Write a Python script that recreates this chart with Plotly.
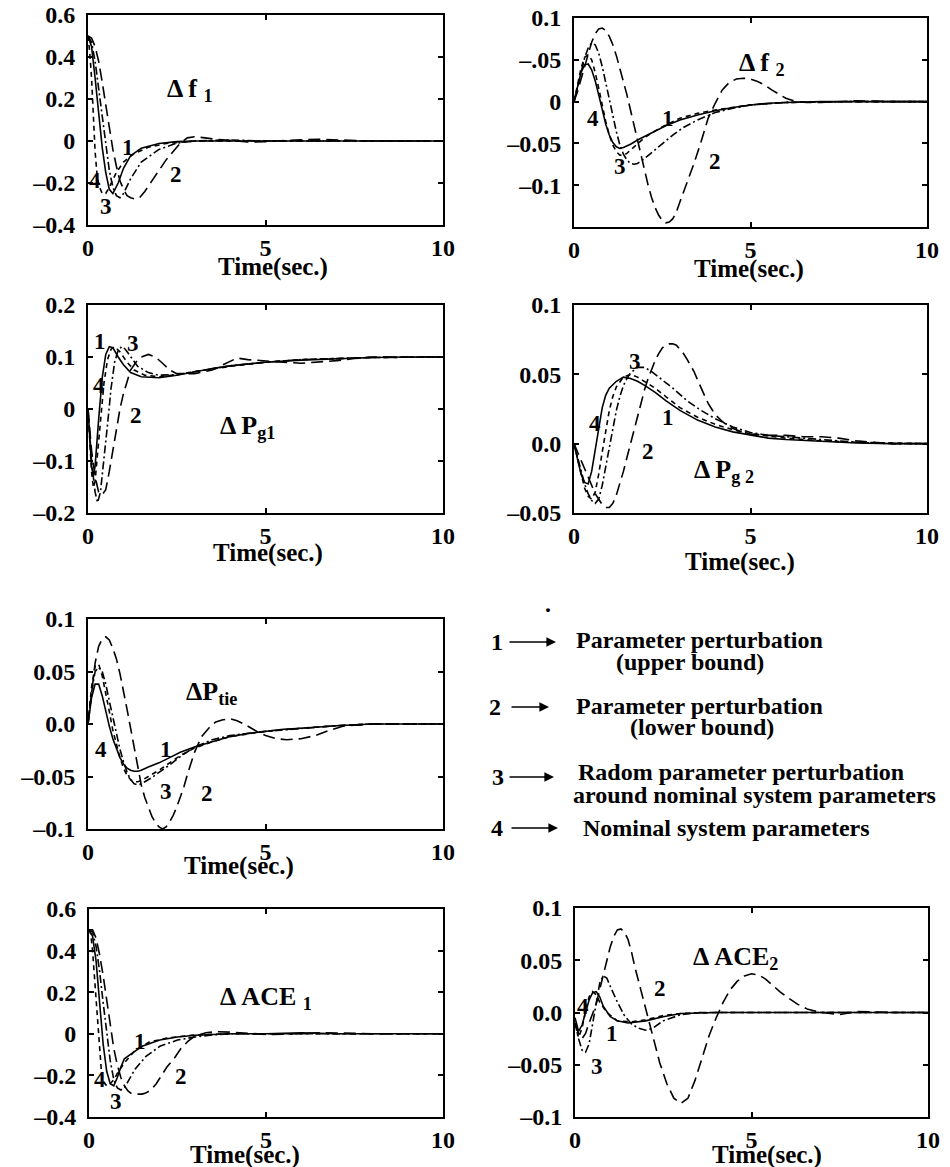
import plotly.graph_objects as go

W, H = 950, 1167

# ---------------- data: Δf1 ----------------
df1_t1 = [0, 0.1, 0.2, 0.3, 0.4, 0.5, 0.6, 0.7, 0.85, 1.0, 1.2, 1.5, 2.0, 2.5, 3, 4, 5, 6, 7, 8, 9, 10]
df1_v1 = [0.5, 0.45, 0.3, 0.12, -0.03, -0.15, -0.23, -0.25, -0.2, -0.13, -0.07, -0.035, -0.012, -0.003, 0, 0, 0, 0, 0, 0, 0, 0]
df1_t2 = [0, 0.1, 0.2, 0.3, 0.4, 0.5, 0.6, 0.7, 0.8, 0.9, 1.0, 1.1, 1.2, 1.3, 1.45, 1.6, 1.8, 2.0, 2.2, 2.4, 2.6, 2.8, 3.0, 3.3, 3.6, 4, 4.5, 5, 5.5, 6, 6.5, 7, 8, 10]
df1_v2 = [0.5, 0.49, 0.45, 0.38, 0.28, 0.17, 0.06, -0.04, -0.12, -0.19, -0.23, -0.26, -0.27, -0.275, -0.27, -0.24, -0.19, -0.14, -0.09, -0.05, -0.01, 0.015, 0.02, 0.015, 0.008, 0.003, -0.005, -0.003, 0.003, 0.006, 0.008, 0.005, 0, 0]
df1_t3 = [0, 0.1, 0.2, 0.3, 0.4, 0.5, 0.6, 0.7, 0.8, 0.9, 1.0, 1.2, 1.5, 2.0, 2.5, 3, 4, 5, 6, 8, 10]
df1_v3 = [0.5, 0.47, 0.38, 0.25, 0.1, -0.03, -0.14, -0.22, -0.26, -0.27, -0.25, -0.18, -0.1, -0.04, -0.01, 0, 0.005, 0, 0, 0, 0]
df1_t4 = [0, 0.05, 0.1, 0.15, 0.2, 0.25, 0.3, 0.4, 0.5, 0.6, 0.8, 1.0, 1.3, 1.7, 2.2, 3, 4, 6, 8, 10]
df1_v4 = [0.5, 0.42, 0.3, 0.12, -0.05, -0.15, -0.21, -0.25, -0.25, -0.22, -0.15, -0.1, -0.06, -0.03, -0.012, 0, 0, 0, 0, 0]

# ---------------- data: Δf2 ----------------
df2_t1 = [0, 0.1, 0.2, 0.3, 0.4, 0.5, 0.6, 0.7, 0.8, 0.9, 1.0, 1.1, 1.2, 1.3, 1.4, 1.6, 1.8, 2.0, 2.3, 2.6, 3.0, 3.5, 4.0, 4.5, 5, 5.5, 6, 7, 8, 10]
df2_v1 = [0, 0.018, 0.035, 0.044, 0.045, 0.038, 0.025, 0.008, -0.01, -0.027, -0.04, -0.049, -0.054, -0.056, -0.055, -0.051, -0.046, -0.042, -0.035, -0.029, -0.022, -0.016, -0.011, -0.007, -0.004, -0.002, -0.001, 0, 0, 0]
df2_t2 = [0, 0.1, 0.2, 0.3, 0.4, 0.5, 0.6, 0.7, 0.8, 0.9, 1.0, 1.1, 1.2, 1.3, 1.4, 1.5, 1.6, 1.7, 1.8, 1.9, 2.0, 2.1, 2.2, 2.3, 2.4, 2.5, 2.6, 2.7, 2.8, 2.9, 3.0, 3.2, 3.4, 3.6, 3.8, 4.0, 4.2, 4.4, 4.6, 4.8, 5.0, 5.2, 5.4, 5.6, 5.8, 6.0, 6.3, 6.6, 7, 8, 9, 10]
df2_v2 = [0, 0.012, 0.027, 0.042, 0.058, 0.071, 0.081, 0.087, 0.088, 0.085, 0.078, 0.068, 0.055, 0.04, 0.024, 0.008, -0.01, -0.028, -0.048, -0.066, -0.084, -0.1, -0.115, -0.127, -0.136, -0.142, -0.145, -0.144, -0.14, -0.132, -0.12, -0.098, -0.074, -0.048, -0.02, -0.002, 0.014, 0.023, 0.027, 0.028, 0.027, 0.024, 0.02, 0.014, 0.009, 0.004, 0.0, -0.001, -0.001, 0.001, 0, 0]
df2_t3 = [0, 0.1, 0.2, 0.3, 0.4, 0.5, 0.6, 0.7, 0.8, 0.9, 1.0, 1.1, 1.2, 1.3, 1.4, 1.5, 1.6, 1.7, 1.8, 2.0, 2.2, 2.5, 2.8, 3.1, 3.5, 4.0, 4.5, 5, 6, 8, 10]
df2_v3 = [0, 0.018, 0.036, 0.052, 0.064, 0.07, 0.068, 0.058, 0.042, 0.022, 0.002, -0.018, -0.036, -0.052, -0.063, -0.07, -0.074, -0.075, -0.074, -0.068, -0.061, -0.05, -0.04, -0.031, -0.022, -0.013, -0.008, -0.004, -0.001, 0, 0]
df2_t4 = [0, 0.1, 0.2, 0.3, 0.4, 0.5, 0.6, 0.7, 0.8, 0.9, 1.0, 1.1, 1.2, 1.3, 1.4, 1.5, 1.6, 1.8, 2.0, 2.3, 2.6, 3.0, 3.5, 4, 5, 6, 8, 10]
df2_v4 = [0, 0.02, 0.04, 0.053, 0.056, 0.05, 0.035, 0.016, -0.005, -0.024, -0.04, -0.052, -0.06, -0.064, -0.064, -0.062, -0.058, -0.05, -0.043, -0.035, -0.028, -0.02, -0.014, -0.01, -0.004, -0.001, 0, 0]

# ---------------- data: ΔPg1 ----------------
pg1_t1 = [0, 0.05, 0.1, 0.15, 0.2, 0.3, 0.4, 0.5, 0.6, 0.7, 0.85, 1.0, 1.2, 1.5, 2, 2.5, 3, 3.5, 4, 5, 6, 7, 8, 9, 10]
pg1_v1 = [0, -0.06, -0.11, -0.13, -0.11, -0.02, 0.06, 0.105, 0.12, 0.118, 0.1, 0.085, 0.07, 0.062, 0.06, 0.065, 0.072, 0.078, 0.083, 0.09, 0.094, 0.097, 0.099, 0.1, 0.1]
pg1_t2 = [0, 0.1, 0.2, 0.3, 0.4, 0.5, 0.6, 0.7, 0.8, 0.9, 1.0, 1.1, 1.2, 1.35, 1.5, 1.7, 1.9, 2.1, 2.3, 2.5, 3, 3.5, 4, 4.2, 4.5, 5, 5.5, 6, 6.5, 7, 7.5, 8, 9, 10]
pg1_v2 = [0, -0.08, -0.13, -0.16, -0.165, -0.155, -0.12, -0.08, -0.04, 0.0, 0.03, 0.055, 0.075, 0.09, 0.1, 0.105, 0.1, 0.088, 0.075, 0.068, 0.068, 0.075, 0.092, 0.098, 0.095, 0.092, 0.09, 0.088, 0.09, 0.093, 0.097, 0.1, 0.1, 0.1]
pg1_t3 = [0, 0.1, 0.2, 0.27, 0.35, 0.45, 0.55, 0.65, 0.75, 0.85, 0.95, 1.05, 1.2, 1.4, 1.7, 2, 2.5, 3, 4, 5, 6, 8, 10]
pg1_v3 = [0, -0.1, -0.16, -0.18, -0.16, -0.1, -0.03, 0.04, 0.09, 0.113, 0.12, 0.115, 0.1, 0.082, 0.07, 0.065, 0.066, 0.072, 0.083, 0.09, 0.095, 0.099, 0.1]
pg1_t4 = [0, 0.05, 0.1, 0.15, 0.2, 0.25, 0.35, 0.45, 0.55, 0.65, 0.75, 0.9, 1.1, 1.3, 1.6, 2, 2.5, 3, 4, 5, 6, 8, 10]
pg1_v4 = [0, -0.07, -0.12, -0.15, -0.14, -0.1, -0.02, 0.05, 0.095, 0.115, 0.12, 0.11, 0.09, 0.075, 0.065, 0.062, 0.066, 0.072, 0.082, 0.09, 0.095, 0.099, 0.1]

# ---------------- data: ΔPg2 ----------------
pg2_t1 = [0, 0.1, 0.2, 0.3, 0.4, 0.5, 0.6, 0.7, 0.8, 0.9, 1.0, 1.2, 1.4, 1.6, 1.8, 2.0, 2.3, 2.6, 3.0, 3.5, 4.0, 4.5, 5, 5.5, 6, 7, 8, 9, 10]
pg2_v1 = [0, -0.012, -0.022, -0.028, -0.029, -0.02, -0.005, 0.012, 0.026, 0.035, 0.04, 0.045, 0.048, 0.047, 0.045, 0.042, 0.037, 0.031, 0.024, 0.017, 0.012, 0.0085, 0.006, 0.004, 0.003, 0.0015, 0.0005, 0, 0]
pg2_t2 = [0, 0.2, 0.4, 0.6, 0.8, 0.9, 1.0, 1.1, 1.2, 1.3, 1.4, 1.5, 1.6, 1.7, 1.8, 1.9, 2.0, 2.1, 2.2, 2.3, 2.4, 2.5, 2.6, 2.7, 2.8, 2.9, 3.0, 3.1, 3.2, 3.3, 3.4, 3.5, 3.6, 3.7, 3.8, 3.9, 4.0, 4.2, 4.4, 4.6, 4.8, 5.0, 5.5, 6.0, 6.5, 7.0, 7.5, 8.0, 9, 10]
pg2_v2 = [0, -0.012, -0.025, -0.036, -0.044, -0.046, -0.046, -0.043, -0.037, -0.029, -0.02, -0.01, 0.0, 0.011, 0.021, 0.03, 0.039, 0.047, 0.054, 0.06, 0.065, 0.069, 0.071, 0.072, 0.072, 0.071, 0.068, 0.065, 0.061, 0.057, 0.052, 0.046, 0.04, 0.034, 0.029, 0.025, 0.021, 0.016, 0.012, 0.01, 0.008, 0.007, 0.006, 0.006, 0.005, 0.005, 0.004, 0.002, 0, 0]
pg2_t3 = [0, 0.1, 0.2, 0.3, 0.4, 0.5, 0.6, 0.7, 0.8, 0.9, 1.0, 1.1, 1.2, 1.3, 1.4, 1.5, 1.6, 1.8, 2.0, 2.2, 2.5, 2.8, 3.2, 3.6, 4.0, 4.5, 5, 5.5, 6, 6.5, 7, 8, 9, 10]
pg2_v3 = [0, -0.01, -0.02, -0.029, -0.036, -0.041, -0.043, -0.04, -0.03, -0.016, -0.002, 0.012, 0.024, 0.034, 0.042, 0.047, 0.051, 0.055, 0.055, 0.052, 0.046, 0.04, 0.031, 0.024, 0.018, 0.012, 0.008, 0.006, 0.005, 0.004, 0.003, 0.001, 0, 0]
pg2_t4 = [0, 0.1, 0.2, 0.3, 0.4, 0.5, 0.6, 0.7, 0.8, 0.9, 1.0, 1.1, 1.2, 1.4, 1.6, 1.8, 2.0, 2.3, 2.6, 3.0, 3.5, 4.0, 4.5, 5, 6, 7, 8, 10]
pg2_v4 = [0, -0.011, -0.022, -0.032, -0.038, -0.04, -0.035, -0.022, -0.006, 0.01, 0.024, 0.034, 0.041, 0.048, 0.05, 0.048, 0.045, 0.04, 0.034, 0.026, 0.019, 0.014, 0.01, 0.007, 0.004, 0.002, 0.001, 0]

# ---------------- data: ΔPtie ----------------
tie_t1 = [0, 0.1, 0.2, 0.3, 0.4, 0.5, 0.6, 0.7, 0.8, 0.9, 1.0, 1.1, 1.2, 1.3, 1.4, 1.5, 1.7, 2.0, 2.3, 2.6, 3.0, 3.5, 4.0, 4.5, 5, 5.5, 6, 7, 8, 9, 10]
tie_v1 = [0, 0.025, 0.038, 0.038, 0.027, 0.012, -0.002, -0.014, -0.024, -0.032, -0.038, -0.042, -0.044, -0.045, -0.045, -0.044, -0.041, -0.037, -0.032, -0.027, -0.022, -0.017, -0.012, -0.009, -0.007, -0.005, -0.004, -0.0016, 0, 0, 0]
tie_t2 = [0, 0.1, 0.2, 0.3, 0.4, 0.5, 0.6, 0.7, 0.8, 0.9, 1.0, 1.1, 1.2, 1.3, 1.4, 1.5, 1.6, 1.7, 1.8, 1.9, 2.0, 2.1, 2.2, 2.3, 2.4, 2.5, 2.6, 2.7, 2.8, 2.9, 3.0, 3.2, 3.4, 3.6, 3.8, 4.0, 4.2, 4.4, 4.6, 4.8, 5.0, 5.3, 5.6, 6.0, 6.4, 6.8, 7.2, 8, 9, 10]
tie_v2 = [0, 0.03, 0.058, 0.074, 0.081, 0.083, 0.08, 0.072, 0.062, 0.048, 0.032, 0.014, -0.004, -0.022, -0.04, -0.058, -0.07, -0.08, -0.088, -0.094, -0.098, -0.1, -0.098, -0.093, -0.087, -0.079, -0.07, -0.06, -0.048, -0.037, -0.027, -0.012, -0.004, 0.002, 0.004, 0.005, 0.003, 0.0, -0.004, -0.008, -0.011, -0.014, -0.015, -0.014, -0.011, -0.006, -0.002, 0, 0, 0]
tie_t3 = [0, 0.1, 0.2, 0.3, 0.4, 0.5, 0.6, 0.7, 0.8, 0.9, 1.0, 1.1, 1.2, 1.3, 1.4, 1.5, 1.6, 1.8, 2.0, 2.3, 2.6, 3.0, 3.5, 4.0, 5, 6, 7, 8, 10]
tie_v3 = [0, 0.03, 0.05, 0.054, 0.05, 0.038, 0.022, 0.006, -0.01, -0.024, -0.036, -0.046, -0.053, -0.057, -0.058, -0.057, -0.055, -0.051, -0.046, -0.039, -0.031, -0.022, -0.015, -0.011, -0.007, -0.004, -0.0016, 0, 0]
tie_t4 = [0, 0.1, 0.2, 0.3, 0.4, 0.5, 0.6, 0.7, 0.8, 0.9, 1.0, 1.1, 1.2, 1.3, 1.4, 1.5, 1.7, 2.0, 2.3, 2.6, 3.0, 3.5, 4.0, 5, 6, 7, 8, 10]
tie_v4 = [0, 0.035, 0.055, 0.057, 0.046, 0.03, 0.012, -0.006, -0.02, -0.032, -0.042, -0.049, -0.053, -0.055, -0.055, -0.054, -0.05, -0.044, -0.037, -0.03, -0.023, -0.017, -0.012, -0.007, -0.004, -0.0016, 0, 0]

# ---------------- data: ΔACE1 ----------------
ace1_t1 = [0, 0.1, 0.2, 0.3, 0.4, 0.5, 0.6, 0.7, 0.8, 0.9, 1.0, 1.2, 1.5, 2.0, 2.5, 3, 3.5, 4, 5, 6, 7, 8, 10]
ace1_v1 = [0.5, 0.47, 0.35, 0.15, -0.05, -0.18, -0.24, -0.25, -0.21, -0.16, -0.12, -0.095, -0.06, -0.03, -0.015, -0.007, -0.003, 0, 0, 0.005, 0, 0, 0]
ace1_t2 = [0, 0.1, 0.2, 0.3, 0.4, 0.5, 0.6, 0.7, 0.8, 0.9, 1.0, 1.1, 1.2, 1.3, 1.4, 1.5, 1.6, 1.7, 1.8, 1.9, 2.0, 2.1, 2.2, 2.4, 2.6, 2.8, 3.0, 3.3, 3.6, 4.0, 4.5, 5, 5.5, 6, 6.5, 7, 8, 10]
ace1_v2 = [0.5, 0.5, 0.46, 0.38, 0.28, 0.16, 0.04, -0.07, -0.15, -0.21, -0.25, -0.275, -0.288, -0.29, -0.29, -0.29, -0.285, -0.275, -0.26, -0.24, -0.215, -0.19, -0.16, -0.12, -0.07, -0.035, -0.01, 0.005, 0.01, 0.008, 0.002, -0.003, -0.002, 0.003, 0.005, 0.004, 0, 0]
ace1_t3 = [0, 0.1, 0.2, 0.3, 0.4, 0.5, 0.6, 0.7, 0.8, 0.9, 1.0, 1.1, 1.3, 1.6, 2.0, 2.5, 3.0, 3.5, 4, 5, 6, 8, 10]
ace1_v3 = [0.5, 0.49, 0.42, 0.3, 0.15, 0.0, -0.13, -0.22, -0.26, -0.27, -0.26, -0.23, -0.17, -0.11, -0.06, -0.03, -0.015, -0.005, 0, 0, 0, 0, 0]
ace1_t4 = [0, 0.05, 0.1, 0.15, 0.2, 0.25, 0.3, 0.35, 0.4, 0.5, 0.6, 0.7, 0.8, 1.0, 1.3, 1.7, 2.2, 3, 4, 6, 8, 10]
ace1_v4 = [0.5, 0.48, 0.4, 0.28, 0.15, 0.02, -0.1, -0.18, -0.23, -0.25, -0.24, -0.22, -0.19, -0.14, -0.08, -0.04, -0.02, -0.005, 0, 0, 0, 0]

# ---------------- data: ΔACE2 ----------------
ace2_t1 = [0, 0.1, 0.2, 0.3, 0.4, 0.5, 0.6, 0.7, 0.8, 1.0, 1.2, 1.5, 2.0, 2.5, 3.0, 4, 5, 6, 8, 10]
ace2_v1 = [-0.005, -0.018, -0.012, 0.0, 0.012, 0.019, 0.02, 0.015, 0.006, -0.004, -0.008, -0.01, -0.008, -0.004, -0.001, 0, 0, 0, 0, 0]
ace2_t2 = [0, 0.1, 0.2, 0.3, 0.4, 0.5, 0.6, 0.7, 0.8, 0.9, 1.0, 1.1, 1.2, 1.3, 1.4, 1.5, 1.6, 1.7, 1.8, 1.9, 2.0, 2.2, 2.4, 2.6, 2.8, 3.0, 3.2, 3.4, 3.6, 3.8, 4.0, 4.2, 4.4, 4.6, 4.8, 5.0, 5.2, 5.4, 5.6, 5.8, 6.0, 6.3, 6.6, 7.0, 7.5, 8, 9, 10]
ace2_v2 = [-0.01, -0.02, -0.025, -0.02, -0.01, 0.0, 0.008, 0.022, 0.036, 0.05, 0.063, 0.073, 0.079, 0.08, 0.077, 0.07, 0.058, 0.043, 0.03, 0.018, 0.005, -0.022, -0.048, -0.068, -0.082, -0.087, -0.082, -0.065, -0.043, -0.022, -0.005, 0.01, 0.022, 0.03, 0.035, 0.037, 0.036, 0.032, 0.026, 0.02, 0.015, 0.008, 0.003, 0.0, -0.002, 0.001, 0, 0]
ace2_t3 = [0, 0.1, 0.2, 0.3, 0.4, 0.5, 0.6, 0.7, 0.8, 0.9, 1.0, 1.2, 1.4, 1.6, 1.8, 2.0, 2.2, 2.5, 3.0, 3.5, 4, 5, 6, 8, 10]
ace2_v3 = [-0.01, -0.025, -0.036, -0.038, -0.03, -0.01, 0.012, 0.028, 0.035, 0.033, 0.025, 0.01, -0.003, -0.011, -0.015, -0.017, -0.015, -0.008, -0.002, 0, 0, 0, 0, 0, 0]
ace2_t4 = [0, 0.1, 0.2, 0.3, 0.4, 0.5, 0.6, 0.7, 0.9, 1.2, 1.6, 2.0, 2.5, 3, 4, 6, 8, 10]
ace2_v4 = [-0.01, -0.024, -0.015, 0.002, 0.015, 0.02, 0.017, 0.01, 0.0, -0.008, -0.009, -0.007, -0.003, -0.001, 0, 0, 0, 0]

# ---------------- axis ticks ----------------
x_tickvals = [0, 5, 10]
x_ticktext = ["0", "5", "10"]
ytick_f1 = ([0.6, 0.4, 0.2, 0, -0.2, -0.4], ["0.6", "0.4", "0.2", "0", "\u20130.2", "\u20130.4"])
ytick_f2 = ([0.1, 0.05, 0, -0.05, -0.1], ["0.1", "\u2013.05", "0", "\u20130.05", "\u20130.1"])
ytick_pg1 = ([0.2, 0.1, 0, -0.1, -0.2], ["0.2", "0.1", "0", "\u20130.1", "\u20130.2"])
ytick_pg2 = ([0.1, 0.05, 0, -0.05], ["0.1", "0.05", "0.0", "\u20130.05"])
ytick_tie = ([0.1, 0.05, 0, -0.05, -0.1], ["0.1", "0.05", "0.0", "\u20130.05", "\u20130.1"])
ytick_ace1 = ([0.6, 0.4, 0.2, 0, -0.2, -0.4], ["0.6", "0.4", "0.2", "0", "\u20130.2", "\u20130.4"])
ytick_ace2 = ([0.1, 0.05, 0, -0.05, -0.1], ["0.1", "0.05", "0.0", "\u20130.05", "\u20130.1"])

legend_lines = [
    ("1", ["Parameter perturbation", "(upper bound)"]),
    ("2", ["Parameter perturbation", "(lower bound)"]),
    ("3", ["Radom parameter perturbation", "around nominal system parameters"]),
    ("4", ["Nominal system parameters"]),
]

FONT = "Liberation Serif, Times New Roman, serif"
FS = 24
DASH = {1: "solid", 2: "12px,6px", 3: "8px,3px,2px,3px", 4: "5px,4px"}

# panel layout in pixels: (left, right, top, bottom)
panels = [
    dict(px=(88, 443, 15, 225), yr=(-0.4, 0.6), yt=ytick_f1,
         curves=[(df1_t1, df1_v1), (df1_t2, df1_v2), (df1_t3, df1_v3), (df1_t4, df1_v4)],
         title="\u0394 f <sub>1</sub>", tpos=(190, 90), timepos=(273, 267),
         nums=[("1", 1.13, -0.03), ("2", 2.49, -0.16), ("3", 0.52, -0.31), ("4", 0.2, -0.19)]),
    dict(px=(574, 927, 18, 227), yr=(-0.15, 0.1), yt=ytick_f2,
         curves=[(df2_t1, df2_v1), (df2_t2, df2_v2), (df2_t3, df2_v3), (df2_t4, df2_v4)],
         title="\u0394 f <sub>2</sub>", tpos=(762, 64), timepos=(749, 269),
         nums=[("1", 2.67, -0.02), ("2", 4.0, -0.072), ("3", 1.3, -0.078), ("4", 0.55, -0.02)]),
    dict(px=(88, 443, 305, 513), yr=(-0.2, 0.2), yt=ytick_pg1,
         curves=[(pg1_t1, pg1_v1), (pg1_t2, pg1_v2), (pg1_t3, pg1_v3), (pg1_t4, pg1_v4)],
         title="\u0394 P<sub>g1</sub>", tpos=(247, 427), timepos=(268, 553),
         nums=[("1", 0.33, 0.13), ("2", 1.36, -0.012), ("3", 1.27, 0.126), ("4", 0.31, 0.046)]),
    dict(px=(574, 927, 305, 513), yr=(-0.05, 0.1), yt=ytick_pg2,
         curves=[(pg2_t1, pg2_v1), (pg2_t2, pg2_v2), (pg2_t3, pg2_v3), (pg2_t4, pg2_v4)],
         title="\u0394 P<sub>g 2</sub>", tpos=(724, 471), timepos=(740, 562),
         nums=[("1", 2.67, 0.019), ("2", 2.1, -0.006), ("3", 1.73, 0.059), ("4", 0.6, 0.0145)]),
    dict(px=(88, 443, 619, 829), yr=(-0.1, 0.1), yt=ytick_tie,
         curves=[(tie_t1, tie_v1), (tie_t2, tie_v2), (tie_t3, tie_v3), (tie_t4, tie_v4)],
         title="\u0394P<sub>tie</sub>", tpos=(211, 693), timepos=(239, 866),
         nums=[("1", 2.21, -0.024), ("2", 3.34, -0.066), ("3", 2.21, -0.064), ("4", 0.38, -0.024)]),
    dict(px=(89, 443, 909, 1117), yr=(-0.4, 0.6), yt=ytick_ace1,
         curves=[(ace1_t1, ace1_v1), (ace1_t2, ace1_v2), (ace1_t3, ace1_v3), (ace1_t4, ace1_v4)],
         title="\u0394 ACE <sub>1</sub>", tpos=(266, 998), timepos=(245, 1155),
         nums=[("1", 1.43, -0.038), ("2", 2.61, -0.206), ("3", 0.77, -0.326), ("4", 0.3, -0.222)]),
    dict(px=(575, 928, 908, 1117), yr=(-0.1, 0.1), yt=ytick_ace2,
         curves=[(ace2_t1, ace2_v1), (ace2_t2, ace2_v2), (ace2_t3, ace2_v3), (ace2_t4, ace2_v4)],
         title="\u0394 ACE<sub>2</sub>", tpos=(735, 958), timepos=(767, 1155),
         nums=[("1", 1.04, -0.02), ("2", 2.4, 0.023), ("3", 0.61, -0.052), ("4", 0.24, 0.0056)]),
]


def px2x(p):
    return p / W


def py2y(p):
    return 1 - p / H


fig = go.Figure()
annotations = []
layout = dict(
    width=W, height=H, margin=dict(l=0, r=0, t=0, b=0, pad=0), autosize=False,
    paper_bgcolor="white", plot_bgcolor="white", showlegend=False,
    font=dict(family=FONT, size=FS, color="black"),
)

for i, p in enumerate(panels):
    n = i + 1
    xa = "xaxis" if n == 1 else f"xaxis{n}"
    ya = "yaxis" if n == 1 else f"yaxis{n}"
    xr = "x" if n == 1 else f"x{n}"
    yr_ = "y" if n == 1 else f"y{n}"
    l, r, t, b = p["px"]
    common = dict(showline=True, linecolor="black", linewidth=2, mirror="allticks",
                  ticks="inside", ticklen=5, tickwidth=1.5, tickcolor="black",
                  showgrid=False, zeroline=False, automargin=False,
                  tickfont=dict(family=FONT, size=FS, color="black", weight="bold"))
    layout[xa] = dict(domain=[px2x(l), px2x(r)], range=[0, 10], anchor=yr_,
                      tickvals=x_tickvals, ticktext=x_ticktext, **common)
    layout[ya] = dict(domain=[py2y(b), py2y(t)], range=list(p["yr"]), anchor=xr,
                      tickvals=p["yt"][0], ticktext=p["yt"][1], ticklabelstandoff=6, **common)
    for k, (tt, vv) in enumerate(p["curves"]):
        fig.add_trace(go.Scatter(x=tt, y=vv, mode="lines", xaxis=xr, yaxis=yr_,
                                 line=dict(color="black", width=1.6, dash=DASH[k + 1]),
                                 hoverinfo="skip"))
    annotations.append(dict(text=p["title"], x=px2x(p["tpos"][0]), y=py2y(p["tpos"][1]),
                            xref="paper", yref="paper", showarrow=False,
                            xanchor="center", yanchor="middle",
                            font=dict(family=FONT, size=FS + 2, color="black", weight="bold")))
    annotations.append(dict(text="Time(sec.)", x=px2x(p["timepos"][0]), y=py2y(p["timepos"][1]),
                            xref="paper", yref="paper", showarrow=False,
                            xanchor="center", yanchor="middle",
                            font=dict(family=FONT, size=FS + 1, color="black", weight="bold")))
    for lab, xx, yy in p["nums"]:
        annotations.append(dict(text=lab, x=xx, y=yy, xref=xr, yref=yr_, showarrow=False,
                                xanchor="center", yanchor="middle",
                                font=dict(family=FONT, size=FS - 1, color="black", weight="bold")))

# legend block (text + arrows)
leg_num_pos = [(497, 642), (495, 707), (498, 777), (497, 828)]
leg_arrow = [(508, 556, 642), (510, 549, 707), (508, 554, 777), (510, 558, 828)]
leg_text_pos = [[(699, 640), (690, 662)], [(699, 706), (702, 727)],
                [(741, 772), (754, 795)], [(726, 828)]]
for (num, texts), npos, arr, tpos in zip(legend_lines, leg_num_pos, leg_arrow, leg_text_pos):
    annotations.append(dict(text=num, x=px2x(npos[0]), y=py2y(npos[1]), xref="paper", yref="paper",
                            showarrow=False, xanchor="center", yanchor="middle",
                            font=dict(family=FONT, size=FS, color="black", weight="bold")))
    annotations.append(dict(text="", x=px2x(arr[1]), y=py2y(arr[2]), ax=-(arr[1] - arr[0]), ay=0,
                            xref="paper", yref="paper", axref="pixel", ayref="pixel",
                            showarrow=True, arrowhead=2, arrowsize=1.2, arrowwidth=1.6,
                            arrowcolor="black"))
    for txt, (tx, ty) in zip(texts, tpos):
        annotations.append(dict(text=txt, x=px2x(tx), y=py2y(ty), xref="paper", yref="paper",
                                showarrow=False, xanchor="center", yanchor="middle",
                                font=dict(family=FONT, size=FS, color="black", weight="bold")))

# small dot above the legend block, as in the source figure
annotations.append(dict(text=".", x=px2x(548), y=py2y(604), xref="paper", yref="paper",
                        showarrow=False, xanchor="center", yanchor="middle",
                        font=dict(family=FONT, size=FS, color="black", weight="bold")))

layout["annotations"] = annotations
fig.update_layout(**layout)
fig.write_html("out.html", config={"displayModeBar": False},
               post_script="document.documentElement.style.margin='0';document.body.style.margin='0';"
                           "document.body.style.padding='0';document.body.style.overflow='hidden';"
                           "document.documentElement.style.overflow='hidden';")
